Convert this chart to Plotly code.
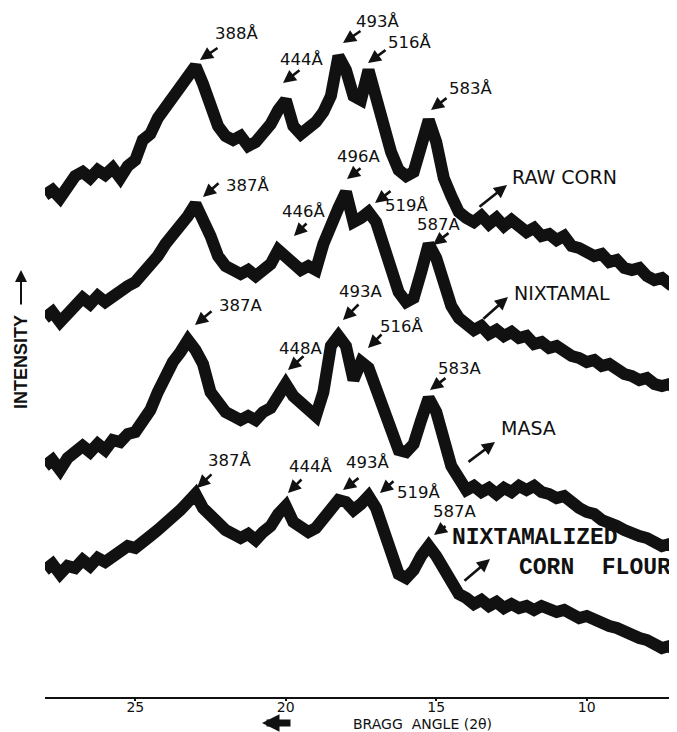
import plotly.graph_objects as go

# Bragg angle grid (2-theta, degrees); the axis runs from high to low angle
two_theta = [28.0, 27.75, 27.5, 27.25, 27.0, 26.75, 26.5, 26.25, 26.0, 25.75,
             25.5, 25.25, 25.0, 24.75, 24.5, 24.25, 24.0, 23.75, 23.5, 23.25,
             23.0, 22.75, 22.5, 22.25, 22.0, 21.75, 21.5, 21.25, 21.0, 20.75,
             20.5, 20.25, 20.0, 19.75, 19.5, 19.25, 19.0, 18.75, 18.5, 18.25,
             18.0, 17.75, 17.5, 17.25, 17.0, 16.75, 16.5, 16.25, 16.0, 15.75,
             15.5, 15.25, 15.0, 14.75, 14.5, 14.25, 14.0, 13.75, 13.5, 13.25,
             13.0, 12.75, 12.5, 12.25, 12.0, 11.75, 11.5, 11.25, 11.0, 10.75,
             10.5, 10.25, 10.0, 9.75, 9.5, 9.25, 9.0, 8.75, 8.5, 8.25,
             8.0, 7.75, 7.5, 7.25, 7.0]

# Intensities (arbitrary units, patterns stacked with vertical offsets)
raw_corn = [502, 507, 499, 509, 521, 525, 519, 527, 522, 529,
            519, 531, 537, 557, 563, 579, 589, 601, 611, 621,
            631, 613, 593, 571, 561, 557, 561, 551, 555, 563,
            573, 587, 597, 571, 563, 569, 575, 585, 601, 641,
            627, 601, 597, 627, 597, 579, 545, 527, 521, 525,
            547, 577, 555, 519, 501, 485, 479, 475, 481, 473,
            479, 471, 477, 471, 465, 469, 461, 463, 457, 461,
            451, 449, 445, 441, 443, 435, 437, 429, 427, 429,
            421, 417, 419, 413, 415]

nixtamal = [379, 385, 375, 383, 393, 399, 393, 401, 395, 401,
            405, 411, 415, 423, 429, 441, 453, 461, 473, 481,
            493, 479, 461, 441, 431, 427, 423, 427, 421, 427,
            433, 447, 441, 433, 427, 431, 427, 453, 475, 489,
            505, 475, 479, 485, 475, 449, 425, 405, 395, 399,
            425, 453, 439, 415, 391, 379, 371, 367, 371, 363,
            367, 361, 365, 359, 361, 353, 355, 349, 351, 345,
            341, 339, 335, 337, 331, 333, 327, 323, 321, 317,
            319, 313, 311, 313, 307]

masa = [231, 237, 227, 239, 245, 251, 245, 253, 247, 257,
        255, 263, 265, 277, 287, 305, 321, 335, 345, 357,
        347, 333, 305, 293, 285, 281, 277, 281, 277, 285,
        289, 301, 313, 301, 293, 285, 281, 305, 351, 361,
        351, 317, 335, 329, 309, 285, 263, 247, 245, 253,
        277, 299, 285, 257, 231, 219, 207, 211, 205, 209,
        203, 209, 205, 211, 207, 211, 205, 203, 199, 201,
        193, 189, 185, 183, 177, 175, 171, 167, 163, 161,
        159, 155, 151, 153, 147]

corn_flour = [127, 133, 123, 131, 129, 137, 131, 139, 135, 141,
              145, 151, 149, 157, 161, 167, 173, 179, 187, 195,
              203, 189, 181, 173, 167, 163, 159, 163, 157, 165,
              171, 183, 191, 175, 171, 165, 169, 177, 185, 197,
              195, 187, 193, 201, 189, 167, 145, 123, 119, 127,
              141, 151, 141, 127, 113, 103, 99, 93, 97, 91,
              95, 89, 93, 89, 91, 87, 91, 87, 85, 87,
              83, 79, 81, 77, 75, 71, 69, 65, 63, 59,
              57, 53, 49, 51, 45]

series = [raw_corn, nixtamal, masa, corn_flour]
tick_vals = [25, 20, 15, 10]
tick_text = ["25", "20", "15", "10"]

# ---------------- layout helpers (pixel positions on the 677x732 page) ----
# the page body has an 8px margin, so the figure is drawn 8px in from the corner
OFF = 8
FW, FH = 677 - OFF, 732 - OFF
PL, PR, PT, PB = 45, 677, 8, 697          # plot area on the page
ML, MR, MT, MB = PL - OFF, 677 - PR, PT - OFF, 732 - PB
PW, PH = PR - PL, PB - PT


def px(x):
    return (x - PL) / PW


def py(y):
    return (PB - y) / PH


INK = "#111111"

fig = go.Figure()
for s in series:
    fig.add_trace(go.Scatter(x=two_theta, y=s, mode="lines",
                             line=dict(color=INK, width=12),
                             hoverinfo="skip", showlegend=False))

# peak labels: (text, text_x, text_y, arrow tail x, y, arrow head x, y)
peak_labels = [
    ("388Å", 236, 33, 219, 47, 200, 60),
    ("444Å", 301, 59, 301, 69, 283, 83),
    ("493Å", 377, 22, 362, 30, 343, 43),
    ("516Å", 409, 42, 387, 49, 368, 63),
    ("583Å", 470, 88, 448, 97, 431, 110),
    ("387Å", 247, 185, 220, 182, 203, 197),
    ("446Å", 303, 211, 308, 222, 294, 236),
    ("496A", 358, 157, 362, 167, 347, 179),
    ("519Å", 406, 206, 392, 190, 375, 203),
    ("587A", 438, 224, 450, 232, 433, 245),
    ("387A", 240, 305, 213, 310, 195, 325),
    ("448A", 300, 348, 305, 355, 288, 370),
    ("493A", 360, 291, 360, 303, 343, 320),
    ("516Å", 401, 326, 383, 333, 368, 348),
    ("583A", 459, 368, 447, 377, 430, 390),
    ("387Å", 229, 461, 213, 473, 197, 488),
    ("444Å", 310, 466, 303, 478, 288, 493),
    ("493Å", 368, 462, 360, 477, 343, 490),
    ("519Å", 418, 492, 395, 480, 380, 493),
    ("587A", 454, 511, 447, 525, 434, 535),
]


def arrow(tx, ty, hx, hy, width=2.6, head=2, size=1.0):
    return dict(text="", x=px(hx), y=py(hy), xref="paper", yref="paper",
                showarrow=True, ax=tx - hx, ay=ty - hy,
                arrowhead=head, arrowsize=size, arrowwidth=width,
                arrowcolor=INK)


def label(t, x, y, family, size, angle=0):
    return dict(text=t, x=px(x), y=py(y), xref="paper", yref="paper",
                showarrow=False, xanchor="center", yanchor="middle",
                textangle=angle,
                font=dict(family=family, size=size, color=INK))


annotations = []
for t, tx, ty, ax0, ay0, hx, hy in peak_labels:
    annotations.append(label(t, tx, ty, "DejaVu Sans", 16.5))
    annotations.append(arrow(ax0, ay0, hx, hy))

# sample names and their arrows
annotations += [
    label("RAW CORN", 564, 177, "DejaVu Sans", 19),
    arrow(478, 208, 507, 185),
    label("NIXTAMAL", 562, 293, "DejaVu Sans", 19),
    arrow(482, 320, 508, 297),
    label("MASA", 528, 428, "DejaVu Sans", 19),
    arrow(467, 463, 495, 442),
    label("<b>NIXTAMALIZED</b>", 535, 538, "Liberation Mono", 23),
    label("<b>CORN\u00a0\u00a0FLOUR</b>", 595, 568, "Liberation Mono", 23),
    arrow(463, 582, 490, 559),
]

# x axis title with a thick arrow pointing to higher angles
annotations += [
    label("BRAGG\u00a0\u00a0ANGLE\u00a0(2θ)", 422, 723.5, "DejaVu Sans", 14),
    arrow(292, 723, 262, 723, width=7, head=2, size=0.5),
]
# y axis title with upward arrow
annotations += [
    label("<b>INTENSITY</b>", 21, 362, "Liberation Sans", 18, angle=-90),
    arrow(21, 306, 21, 270, width=2, head=2, size=1.2),
]

fig.update_layout(
    width=FW, height=FH,
    margin=dict(l=ML, r=MR, t=MT, b=MB, pad=0),
    paper_bgcolor="white", plot_bgcolor="white",
    annotations=annotations,
    xaxis=dict(range=[28, 7], tickvals=tick_vals, ticktext=tick_text,
               showline=True, linecolor=INK, linewidth=2, ticks="outside",
               ticklen=2, tickwidth=1.5, tickcolor=INK, showgrid=False,
               zeroline=False, ticklabelstandoff=-6,
               tickfont=dict(family="DejaVu Sans", size=14, color=INK)),
    yaxis=dict(range=[0, PH], visible=False, showgrid=False, zeroline=False),
)

fig.write_html("out.html")
